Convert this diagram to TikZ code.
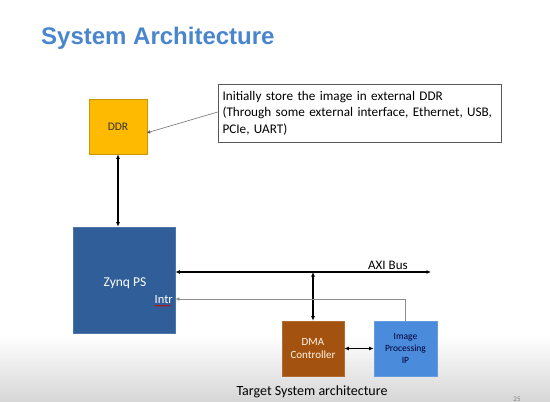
\documentclass[tikz,border=0pt]{standalone}
\usepackage{fontspec}
\setmainfont{Carlito}
\newfontfamily\titlefont{Liberation Sans}
\usetikzlibrary{arrows.meta,calc,decorations.pathmorphing}
\definecolor{titleblue}{HTML}{4A86CE}
\definecolor{ddrgold}{HTML}{FDBA00}
\definecolor{zynqblue}{HTML}{2F5E99}
\definecolor{dmabrown}{HTML}{A4520F}
\definecolor{ipblue}{HTML}{4A8BDC}
\definecolor{bggray}{HTML}{D6D6D6}
\tikzset{
  blockbox/.style={draw, line width=0.6pt, inner sep=1pt, align=center},
  busarrow/.style={line width=1.5pt, {Latex[length=4.5pt,width=4pt]}-{Latex[length=4.5pt,width=4pt]}},
  thinarrow/.style={line width=0.7pt, -{Latex[length=4pt,width=3.5pt]}},
}
\begin{document}
\begin{tikzpicture}[x=1pt,y=-1pt]
\useasboundingbox (0,0) rectangle (550,402);
% background
\fill[white] (0,0) rectangle (550,402);
\shade[top color=white, bottom color=bggray] (0,335) rectangle (550,402);
% title
\node[anchor=base west, inner sep=0pt, text=titleblue, font=\titlefont\bfseries\fontsize{24}{28}\selectfont] (title) at (41,44) {System Architecture};
% blocks
\node[blockbox, fill=ddrgold, draw=ddrgold!80!black, minimum width=58pt, minimum height=55pt, text=black!80, font=\fontsize{11.5}{13}\selectfont] (DDR) at (118,126.5) {DDR};
\node[draw=black!65, line width=0.6pt, fill=white, inner xsep=4.5pt, inner ysep=2pt, minimum width=283pt, minimum height=58pt, text width=274pt, align=left, font=\fontsize{13.2}{16.5}\selectfont] (note) at (359.5,113) {Initially store the image in external DDR\\(Through some external interface, Ethernet, USB,\\PCIe, UART)};
\node[blockbox, fill=zynqblue, draw=zynqblue!85!white, minimum width=102pt, minimum height=106pt] (Zynq) at (124,280) {};
\node[text=white, font=\fontsize{13.5}{16}\selectfont, inner sep=0pt, anchor=base] (zynqlabel) at (125,286) {Zynq PS};
\node[text=white, font=\fontsize{12.5}{15}\selectfont, inner sep=0pt, anchor=base east] (intr) at (173,303.5) {Intr};
\draw[red!80!black, line width=0.5pt, decorate, decoration={snake, amplitude=0.6pt, segment length=2.2pt}] ($(intr.base west)+(0,2.2)$) -- ($(intr.base east)+(-2,2.2)$);
\node[blockbox, fill=dmabrown, draw=dmabrown!85!white, minimum width=62pt, minimum height=55pt, text=white!92!orange, font=\fontsize{11}{13.5}\selectfont] (DMA) at (313,348.5) {DMA\\Controller};
\node[blockbox, fill=ipblue, draw=ipblue!85!white, minimum width=63pt, minimum height=55pt, text=black!80!blue, font=\fontsize{9.5}{12}\selectfont] (IP) at (405.5,348.5) {Image\\Processing\\IP};
% coordinates
\coordinate (axiR) at (431,272);
\coordinate (intrY) at (0,299);
% connectors
\draw[busarrow] (DDR.south) -- (DDR.south |- Zynq.north);
\draw[busarrow] (Zynq.east |- axiR) -- (axiR);
\draw[busarrow] (DMA.north |- axiR) -- (DMA.north);
\draw[busarrow] (DMA.east) -- (IP.west);
\draw[thinarrow, draw=black!45] (IP.north) |- (Zynq.east |- intrY);
\draw[line width=0.6pt, draw=black!55, -{Latex[length=4pt,width=3.5pt,fill=black]}] ($(note.west)+(0,-1)$) -- ($(DDR.east)+(-1,6.5)$);
% labels
\node[anchor=base west, inner sep=0pt, font=\fontsize{13}{15}\selectfont] (axilabel) at (368,269) {AXI Bus};
\node[anchor=base, inner sep=0pt, font=\fontsize{14}{16}\selectfont] (caption) at (312,395) {Target System architecture};
\node[anchor=center, inner sep=0pt, text=black!50, font=\fontsize{7}{8}\selectfont] (page) at (517,399) {25};
\end{tikzpicture}
\end{document}
